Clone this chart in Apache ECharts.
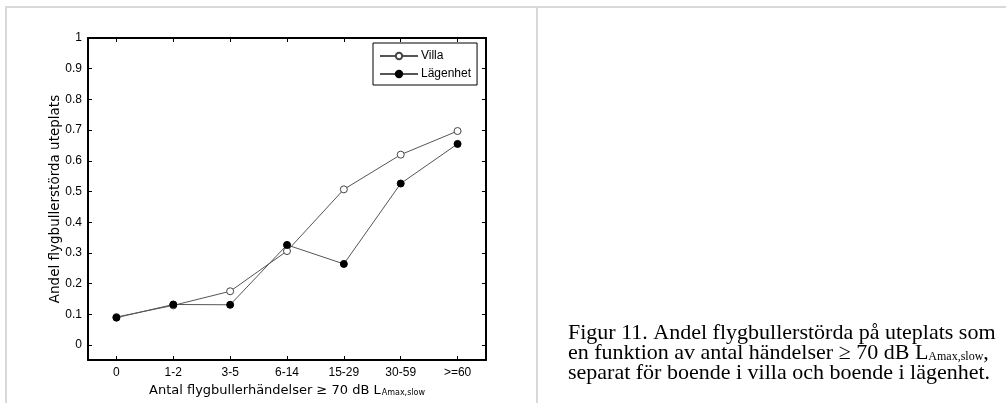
<!DOCTYPE html>
<html>
<head>
<meta charset="utf-8">
<script src="https://cdn.jsdelivr.net/npm/echarts@6/dist/echarts.min.js"></script>
<style>
  html, body { margin: 0; padding: 0; background: #ffffff; }
  #chart { width: 1006px; height: 403px; }
</style>
</head>
<body>
<div id="chart"></div>
<script>
// Number of aircraft noise events >= 70 dB (categories on the x axis)
const categories = ['0', '1-2', '3-5', '6-14', '15-29', '30-59', '>=60'];
// Share of residents annoyed by aircraft noise on their patio
const villa    = [0.091, 0.129, 0.175, 0.306, 0.507, 0.620, 0.697];
const lagenhet = [0.089, 0.132, 0.131, 0.326, 0.264, 0.526, 0.655];
// Value range of the y axis and the tick step
const yRange = [0, 1];
const yStep = 0.1;
// Extra room below zero, down to the frame's bottom edge
const yFrameMin = -0.05;

const seriesNames = ['Villa', 'Lägenhet'];
const captionLines = [
  'Figur 11. Andel flygbullerstörda på uteplats som',
  'en funktion av antal händelser ≥ 70 dB L{sub|Amax,slow},',
  'separat för boende i villa och boende i lägenhet.'
];

const plotLeft = 88, plotWidth = 398, plotTop = 38;
// pixel height of the 0..1 range, frame extends yFrameMin below
const unitHeight = 307;
const frameHeight = Math.round(unitHeight * (yRange[1] - yFrameMin) / (yRange[1] - yRange[0]));

const sansAxis = 'Liberation Sans, Arial, sans-serif';
const sansName = 'DejaVu Sans, Verdana, sans-serif';

const chart = echarts.init(document.getElementById('chart'), null, { renderer: 'canvas' });

const option = {
  backgroundColor: '#ffffff',
  animation: false,
  grid: [
    // outer frame of the plot (axes box and x ticks)
    { left: plotLeft, top: plotTop, width: plotWidth, height: frameHeight, containLabel: false },
    // data area, 0..1
    { left: plotLeft, top: plotTop, width: plotWidth, height: unitHeight, containLabel: false }
  ],
  xAxis: [
    {
      type: 'category', gridIndex: 0, position: 'bottom', data: categories, boundaryGap: true,
      axisLine: { show: true, onZero: false, lineStyle: { color: '#000', width: 2 } },
      axisTick: { show: true, inside: true, alignWithLabel: true, length: 4, lineStyle: { color: '#000', width: 1 } },
      axisLabel: { show: true, margin: 7, color: '#000', fontFamily: sansAxis, fontSize: 12 },
      splitLine: { show: false },
      name: '{m|Antal flygbullerhändelser ≥ 70 dB L}{s|Amax,slow}',
      nameLocation: 'middle', nameGap: 15,
      nameTextStyle: {
        rich: {
          m: { fontFamily: sansName, fontSize: 13, color: '#000', lineHeight: 18, verticalAlign: 'bottom' },
          s: { fontFamily: sansName, fontSize: 8, color: '#000', lineHeight: 18, verticalAlign: 'bottom', padding: [0, 0, 0, 1] }
        }
      }
    },
    {
      type: 'category', gridIndex: 0, position: 'top', data: categories, boundaryGap: true,
      axisLine: { show: true, onZero: false, lineStyle: { color: '#000', width: 2 } },
      axisTick: { show: true, inside: true, alignWithLabel: true, length: 4, lineStyle: { color: '#000', width: 1 } },
      axisLabel: { show: false },
      splitLine: { show: false }
    },
    {
      type: 'category', gridIndex: 1, data: categories, boundaryGap: true, show: false
    }
  ],
  yAxis: [
    {
      type: 'value', gridIndex: 0, position: 'left', min: yFrameMin, max: yRange[1],
      axisLine: { show: true, onZero: false, lineStyle: { color: '#000', width: 2 } },
      axisTick: { show: false }, axisLabel: { show: false }, splitLine: { show: false },
      name: 'Andel flygbullerstörda uteplats',
      nameLocation: 'middle', nameGap: 26, nameRotate: 90,
      nameTextStyle: { fontFamily: sansName, fontSize: 13.5, color: '#000' }
    },
    {
      type: 'value', gridIndex: 0, position: 'right', min: yFrameMin, max: yRange[1],
      axisLine: { show: true, onZero: false, lineStyle: { color: '#000', width: 2 } },
      axisTick: { show: false }, axisLabel: { show: false }, splitLine: { show: false }
    },
    {
      type: 'value', gridIndex: 1, position: 'left', min: yRange[0], max: yRange[1], interval: yStep,
      axisLine: { show: false },
      axisTick: { show: true, inside: true, length: 4, lineStyle: { color: '#000', width: 1 } },
      axisLabel: { show: true, margin: 6, color: '#000', fontFamily: sansAxis, fontSize: 12 },
      splitLine: { show: false }
    },
    {
      type: 'value', gridIndex: 1, position: 'right', min: yRange[0], max: yRange[1], interval: yStep,
      axisLine: { show: false },
      axisTick: { show: true, inside: true, length: 4, lineStyle: { color: '#000', width: 1 } },
      axisLabel: { show: false }, splitLine: { show: false }
    }
  ],
  legend: {
    data: seriesNames,
    orient: 'vertical',
    left: 373, top: 43,
    padding: [6, 6, 4, 6],
    itemGap: 4,
    itemWidth: 38, itemHeight: 8,
    borderColor: '#000', borderWidth: 1,
    backgroundColor: '#ffffff',
    textStyle: { fontFamily: sansAxis, fontSize: 12, color: '#000', lineHeight: 14, padding: [0, 0, 0, -2] }
  },
  series: [
    {
      name: seriesNames[0], type: 'line', xAxisIndex: 2, yAxisIndex: 2, data: villa,
      symbol: 'circle', symbolSize: 7,
      lineStyle: { color: '#555555', width: 1 },
      itemStyle: { color: '#ffffff', borderColor: '#444444', borderWidth: 1 },
      z: 3
    },
    {
      name: seriesNames[1], type: 'line', xAxisIndex: 2, yAxisIndex: 2, data: lagenhet,
      symbol: 'circle', symbolSize: 7,
      lineStyle: { color: '#555555', width: 1 },
      itemStyle: { color: '#000000', borderColor: '#000000', borderWidth: 1 },
      z: 4
    }
  ],
  graphic: [
    // page frame: top rule, left rule and column divider
    { type: 'line', shape: { x1: 5, y1: 7, x2: 1006, y2: 7 }, style: { stroke: '#d9d9d9', lineWidth: 2 }, silent: true },
    { type: 'line', shape: { x1: 6, y1: 6, x2: 6, y2: 403 }, style: { stroke: '#d9d9d9', lineWidth: 2 }, silent: true },
    { type: 'line', shape: { x1: 537, y1: 6, x2: 537, y2: 403 }, style: { stroke: '#d9d9d9', lineWidth: 2 }, silent: true },
    {
      type: 'text', left: 568, top: 322, silent: true,
      style: {
        text: captionLines.join('\n'),
        fill: '#000',
        font: '22px "Liberation Serif", "Times New Roman", serif',
        lineHeight: 20,
        rich: {
          sub: { font: '12px "Liberation Serif", "Times New Roman", serif', fill: '#000', verticalAlign: 'bottom', lineHeight: 20 }
        }
      }
    }
  ]
};

chart.setOption(option);
</script>
</body>
</html>
